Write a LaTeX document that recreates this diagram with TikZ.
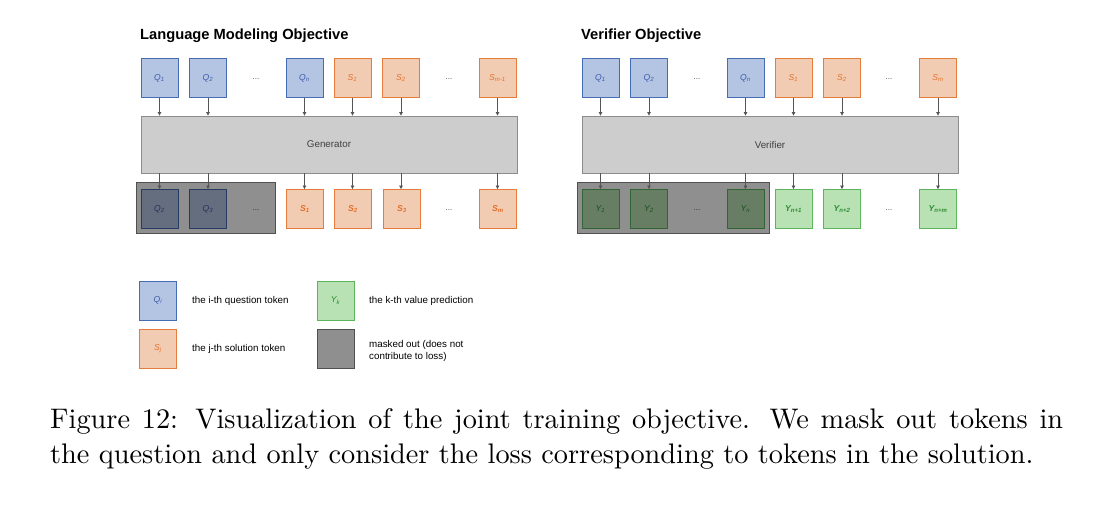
\documentclass[tikz,border=0pt]{standalone}
\usepackage{fontspec}
\setmainfont{lmroman10-regular}[Extension=.otf]
\newfontfamily\arialf{Liberation Sans}
\usetikzlibrary{arrows.meta}
\definecolor{qfill}{RGB}{180,197,227}
\definecolor{qdraw}{RGB}{70,108,180}
\definecolor{qtext}{RGB}{60,90,170}
\definecolor{sfill}{RGB}{242,204,178}
\definecolor{sdraw}{RGB}{228,125,60}
\definecolor{stext}{RGB}{225,112,45}
\definecolor{yfill}{RGB}{184,225,180}
\definecolor{ydraw}{RGB}{92,180,92}
\definecolor{ytext}{RGB}{45,140,50}
\definecolor{genfill}{RGB}{205,205,205}
\definecolor{gendraw}{RGB}{140,140,140}
\definecolor{arrcol}{RGB}{85,85,85}
\definecolor{maskdraw}{RGB}{80,80,80}
\tikzset{
  tok/.style={minimum width=37pt, minimum height=39pt, inner sep=0pt, line width=0.8pt, font=\arialf\fontsize{8.6}{9}\selectfont\itshape},
  btok/.style={font=\arialf\fontsize{8.6}{9}\selectfont\itshape\bfseries},
  qtok/.style={tok, fill=qfill, draw=qdraw, text=qtext},
  stok/.style={tok, fill=sfill, draw=sdraw, text=stext},
  ytok/.style={tok, fill=yfill, draw=ydraw, text=ytext},
  dots/.style={font=\arialf\fontsize{8}{9}\selectfont, text=black!70, inner sep=0pt},
  model/.style={minimum width=376pt, minimum height=57pt, inner sep=0pt, fill=genfill, draw=gendraw, line width=0.8pt, font=\arialf\fontsize{9.8}{11}\selectfont, text=black!75},
  maskbox/.style={fill=black, fill opacity=0.44, draw=maskdraw, draw opacity=1, line width=0.8pt},
  arr/.style={draw=arrcol, line width=0.7pt, -{Triangle[length=3.5pt,width=3.5pt]}},
  title/.style={font=\arialf\fontsize{14.7}{17}\selectfont\bfseries, anchor=base west, inner sep=0pt},
  legtext/.style={font=\arialf\fontsize{9.8}{12}\selectfont, anchor=west, inner sep=0pt, align=left},
  capt/.style={font=\fontsize{28.3}{34}\selectfont, anchor=base west, inner sep=0pt},
}
\newcommand{\sub}[1]{\textsubscript{#1}}
\begin{document}
\begin{tikzpicture}[x=1pt, y=-1pt]
\useasboundingbox (0,0) rectangle (1113,520);
% ---------- Left panel ----------
\node[title] (t1) at (140,39) {Language Modeling Objective};
\node[qtok] (a1) at (159.5,78) {Q\sub{1}};
\node[qtok] (a2) at (208,78) {Q\sub{2}};
\node[dots] (ad1) at (256,79) {...};
\node[qtok] (a3) at (304.5,78) {Q\sub{n}};
\node[stok] (a4) at (352.5,78) {S\sub{1}};
\node[stok] (a5) at (401,78) {S\sub{2}};
\node[dots] (ad2) at (449,79) {...};
\node[stok] (a6) at (497.5,78) {S\sub{m-1}};
\node[model] (gen) at (329,144.5) {Generator};
\node[qtok] (b1) at (159.5,209) {Q\sub{2}};
\node[qtok] (b2) at (208,209) {Q\sub{3}};
\node[dots] (bd1) at (256,210) {...};
\node[stok, btok] (b3) at (305,209) {S\sub{1}};
\node[stok, btok] (b4) at (353,209) {S\sub{2}};
\node[stok, btok] (b5) at (402,209) {S\sub{3}};
\node[dots] (bd2) at (449,210) {...};
\node[stok, btok] (b6) at (498,209) {S\sub{m}};
\node[maskbox, minimum width=139pt, minimum height=51pt, inner sep=0pt] (m1) at (205.5,207.5) {};
\foreach \i in {1,...,6} {\draw[arr] (a\i.south) -- (a\i.south |- gen.north);}
\draw[arr] (a1.south |- gen.south) -- (b1.north);
\draw[arr] (a2.south |- gen.south) -- (b2.north);
\draw[arr] (a3.south |- gen.south) -- (a3.south |- b3.north);
\draw[arr] (a4.south |- gen.south) -- (a4.south |- b4.north);
\draw[arr] (a5.south |- gen.south) -- (a5.south |- b5.north);
\draw[arr] (a6.south |- gen.south) -- (a6.south |- b6.north);
% ---------- Right panel ----------
\node[title] (t2) at (581,39) {Verifier Objective};
\node[qtok] (c1) at (600.5,78) {Q\sub{1}};
\node[qtok] (c2) at (649,78) {Q\sub{2}};
\node[dots] (cd1) at (697,79) {...};
\node[qtok] (c3) at (745.5,78) {Q\sub{n}};
\node[stok] (c4) at (793.5,78) {S\sub{1}};
\node[stok] (c5) at (842,78) {S\sub{2}};
\node[dots] (cd2) at (889,79) {...};
\node[stok] (c6) at (938,78) {S\sub{m}};
\node[model] (ver) at (770,144.5) {Verifier};
\node[ytok] (d1) at (600.5,209) {Y\sub{1}};
\node[ytok] (d2) at (649,209) {Y\sub{2}};
\node[dots] (dd1) at (697,210) {...};
\node[ytok] (d3) at (745.5,209) {Y\sub{n}};
\node[ytok, btok] (d4) at (793.5,209) {Y\sub{n+1}};
\node[ytok, btok] (d5) at (842,209) {Y\sub{n+2}};
\node[dots] (dd2) at (889,210) {...};
\node[ytok, btok] (d6) at (938,209) {Y\sub{n+m}};
\node[maskbox, minimum width=192pt, minimum height=51pt, inner sep=0pt] (m2) at (673,207.5) {};
\foreach \i in {1,...,6} {\draw[arr] (c\i.south) -- (c\i.south |- ver.north);}
\foreach \i in {1,...,6} {\draw[arr] (d\i.north |- ver.south) -- (d\i.north);}
% ---------- Legend ----------
\node[qtok] (lq) at (158,300.5) {Q\sub{i}};
\node[legtext] (lqt) at (192,301) {the i-th question token};
\node[stok] (ls) at (158,348.5) {S\sub{j}};
\node[legtext] (lst) at (192,349) {the j-th solution token};
\node[ytok] (ly) at (335.5,300.5) {Y\sub{k}};
\node[legtext] (lyt) at (369,301) {the k-th value prediction};
\node[tok, fill=black!44, draw=maskdraw] (lm) at (335.5,348.5) {};
\node[legtext] (lmt) at (369,351) {masked out (does not\\contribute to loss)};
% ---------- Caption ----------
\node[capt] (cap1) at (50,428) {\makebox[1013pt][s]{Figure 12: Visualization of the joint training objective. We mask out tokens in}};
\node[capt] (cap2) at (50,463) {the question and only consider the loss corresponding to tokens in the solution.};
\end{tikzpicture}
\end{document}
